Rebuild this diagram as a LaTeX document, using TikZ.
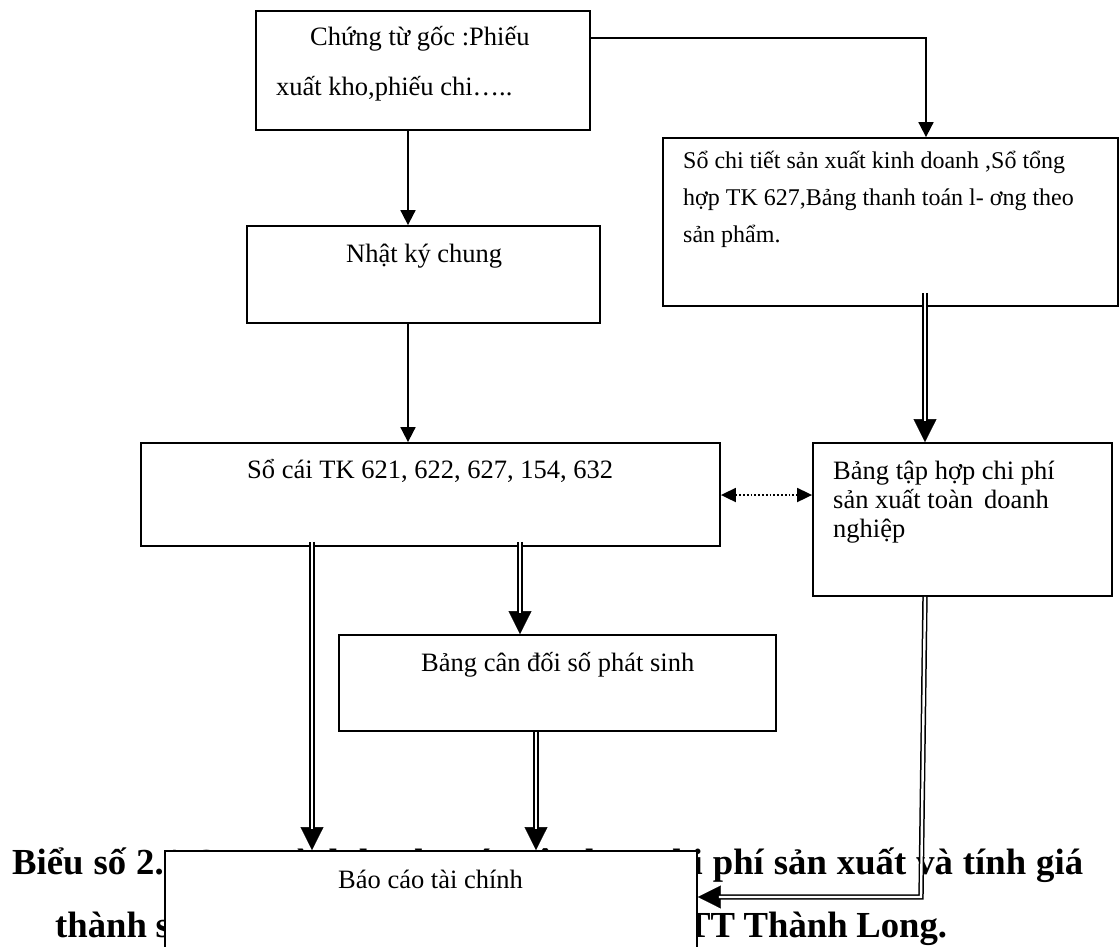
\documentclass[tikz,border=0pt]{standalone}
\usepackage{fontspec}
\setmainfont{Liberation Serif}
\usetikzlibrary{arrows.meta,fit}
\begin{document}
\begin{tikzpicture}[x=1pt,y=-1pt,
  box/.style={draw, line width=1.8pt, fill=white, inner sep=0pt},
  txt/.style={anchor=base west, inner sep=0pt, font=\fontsize{26.5}{30}\selectfont},
  smalltxt/.style={anchor=base west, inner sep=0pt, font=\fontsize{24}{28}\selectfont},
  captiontxt/.style={anchor=base west, inner sep=0pt, font=\bfseries\fontsize{36.7}{40}\selectfont},
  arr/.style={line width=1.8pt, -{Triangle[length=15pt,width=15pt]}},
  headline/.style={line width=0.4pt, -{Triangle[length=23pt,width=23pt]}},
  dbl/.style={double, line width=1.5pt, double distance=2.4pt, shorten >=21pt},
  dots/.style={line width=1.8pt, dotted,
    {Triangle[length=15pt,width=14pt]}-{Triangle[length=15pt,width=14pt]}}]

\clip (0,0) rectangle (1120,946);
\fill[white] (0,0) rectangle (1120,946);

% caption (partly covered by the report box)
\node[captiontxt] (cap1) at (12,874) {\makebox[1071pt][s]{Biểu số 2.1 Quy trình hạch toán tập hợp chi phí sản xuất và tính giá}};
\node[captiontxt] (cap2) at (55,937) {\makebox[892pt][s]{thành sản phẩm tại công ty TNHH XD\&TT Thành Long.}};

% boxes
\node[box, fit={(256,11) (590,130)}] (b1) {};
\node[box, fit={(663,138) (1118,306)}] (b2) {};
\node[box, fit={(247,226) (600,323)}] (b3) {};
\node[box, fit={(141,443) (720,546)}] (b4) {};
\node[box, fit={(813,443) (1112,596)}] (b5) {};
\node[box, fit={(339,635) (776,731)}] (b6) {};
\node[box, fit={(165,851) (697,990)}] (b7) {};

% box texts
\node[txt] (t1a) at (310,45) {Chứng từ gốc :Phiếu};
\node[txt] (t1b) at (276,95) {xuất kho,phiếu chi…..};
\node[smalltxt] (t2a) at (683,168) {Sổ chi tiết sản xuất kinh doanh ,Sổ tổng};
\node[smalltxt] (t2b) at (683,205) {hợp TK 627,Bảng thanh toán l- ơng theo};
\node[smalltxt] (t2c) at (683,242) {sản phẩm.};
\node[txt] (t3) at (346,262) {Nhật ký chung};
\node[txt] (t4) at (247,478) {Sổ cái TK 621, 622, 627, 154, 632};
\node[txt] (t5a) at (833,479) {Bảng tập hợp chi phí};
\node[txt] (t5b) at (833,508) {sản xuất toàn\, doanh};
\node[txt] (t5c) at (833,537) {nghiệp};
\node[txt] (t6) at (421,671) {Bảng cân đối số phát sinh};
\node[txt] (t7) at (338,888) {Báo cáo tài chính};

% guide coordinates for connector positions
\coordinate (r1) at (926,38);
\coordinate (xC) at (408,0);
\coordinate (v5) at (925,0);
\coordinate (yD) at (0,495);
\coordinate (xL) at (312,0);
\coordinate (xM) at (520,0);
\coordinate (xR) at (536,0);
\coordinate (k) at (921,897);

% single arrows
\draw[arr] (b1.east |- r1) -| (b2.north -| r1);
\draw[arr] (b1.south -| xC) -- (b3.north -| xC);
\draw[arr] (b3.south -| xC) -- (b4.north -| xC);

% dotted two-way link
\draw[dots] (b4.east |- yD) -- (b5.west |- yD);

% double arrows
\draw[headline] ([yshift=14pt]b2.south -| v5) -- (b5.north -| v5);
\draw[dbl] ([yshift=14pt]b2.south -| v5) -- (b5.north -| v5);

\draw[headline] ([yshift=5pt]b4.south -| xL) -- (b7.north -| xL);
\draw[dbl] ([yshift=5pt]b4.south -| xL) -- (b7.north -| xL);

\draw[headline] ([yshift=5pt]b4.south -| xM) -- (b6.north -| xM);
\draw[dbl] ([yshift=5pt]b4.south -| xM) -- (b6.north -| xM);

\draw[headline] (b6.south -| xR) -- (b7.north -| xR);
\draw[dbl] (b6.south -| xR) -- (b7.north -| xR);

\draw[headline] (b5.south -| v5) -- (k) -- (b7.east |- k);
\draw[dbl] (b5.south -| v5) -- (k) -- (b7.east |- k);
\end{tikzpicture}
\end{document}
